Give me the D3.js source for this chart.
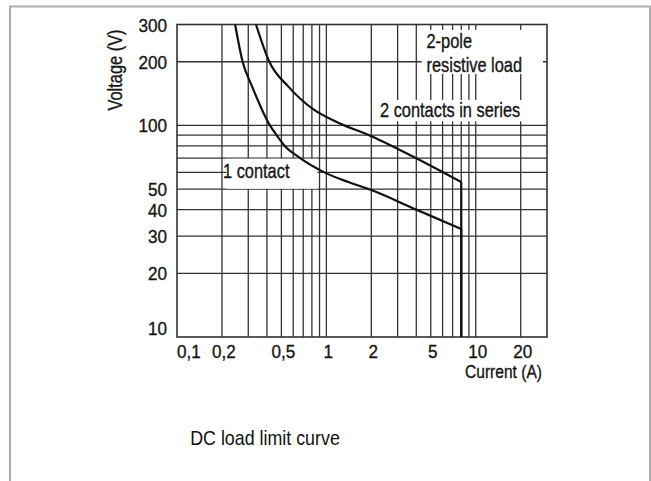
<!DOCTYPE html>
<html>
<head>
<meta charset="utf-8">
<title>DC load limit curve</title>
<script src="https://d3js.org/d3.v7.min.js"></script>
<style>
    body {
        margin: 0;
        background: #fff;
    }
    svg {
        display: block;
        font-family: "Liberation Sans", Arial, sans-serif;
    }
    .grid line {
        stroke: #333;
        stroke-width: 1.3px;
    }
    .curve {
        fill: none;
        stroke: #111;
        stroke-width: 2.2px;
    }
    .lbl, .tick {
        fill: #151515;
        stroke: #151515;
        stroke-width: 0.35px;
    }
    .lbl {
        font-size: 20px;
    }
    .tick {
        font-size: 19px;
    }
</style>
</head>
<body>
<svg id="chart" width="651" height="481"></svg>
<script>
    // axis values
    const xGridValues = [0.2, 0.3, 0.4, 0.5, 0.6, 0.7, 0.8, 0.9, 1, 2, 3, 4, 5, 6, 7, 8, 9, 10, 20];
    const yGridValues = [20, 30, 40, 50, 60, 70, 80, 90, 100, 200];
    const xTickValues = [0.1, 0.2, 0.5, 1, 2, 5, 10, 20];
    const xTickLabels = ["0,1", "0,2", "0,5", "1", "2", "5", "10", "20"];
    const yTickValues = [10, 20, 30, 40, 50, 100, 200, 300];

    // 1 contact
    const oneContactCurrent = [0.245, 0.275, 0.318, 0.419, 0.464, 0.527, 0.65, 0.97, 1.4, 2, 4, 8];
    const oneContactVoltage = [300, 200, 153, 100, 90, 80, 71, 60, 54, 49.5, 40, 32.4];

    // 2 contacts in series
    const seriesCurrent = [0.338, 0.415, 0.555, 0.82, 1.2, 2, 4, 8];
    const seriesVoltage = [300, 200, 153, 119, 103, 89, 70, 54];

    const svg = d3.select("#chart");
    const margin = {top: 24.5, right: 104, bottom: 144, left: 177};
    const W = 651, H = 481;
    const narrow = 0.82; // the original type is a condensed face
    const digits = 0.9;

    const x = d3.scaleLog().domain([0.1, 30]).range([margin.left, W - margin.right]);
    const y = d3.scaleLog().domain([10, 300]).range([H - margin.bottom, margin.top]);

    const at = (px, py, s = narrow) => `translate(${px},${py}) scale(${s},1)`;

    // outer frame
    svg.append("rect")
        .attr("x", 10).attr("y", 6.5)
        .attr("width", 640).attr("height", 500)
        .attr("fill", "none")
        .attr("stroke", "#ababb2")
        .attr("stroke-width", 2);

    // grid
    const grid = svg.append("g").attr("class", "grid");
    grid.selectAll(".v").data(xGridValues).enter().append("line")
        .attr("x1", d => x(d)).attr("x2", d => x(d))
        .attr("y1", y.range()[1]).attr("y2", y.range()[0]);
    grid.selectAll(".h").data(yGridValues).enter().append("line")
        .attr("x1", x.range()[0]).attr("x2", x.range()[1])
        .attr("y1", d => y(d)).attr("y2", d => y(d));

    // white boxes that blank the grid behind the notes
    const box = (i0, i1, v0, v1) => svg.append("rect")
        .attr("x", x(i0)).attr("y", y(v0))
        .attr("width", x(i1) - x(i0)).attr("height", y(v1) - y(v0))
        .attr("fill", "#fff");
    box(4.35, 28.2, 283, 175);    // 2-pole resistive load
    box(2.3, 28.2, 132, 104.5);   // 2 contacts in series
    box(0.214, 0.87, 69.6, 50.2); // 1 contact

    // plot border
    svg.append("rect")
        .attr("x", x.range()[0]).attr("y", y.range()[1])
        .attr("width", x.range()[1] - x.range()[0])
        .attr("height", y.range()[0] - y.range()[1])
        .attr("fill", "none")
        .attr("stroke", "#333")
        .attr("stroke-width", 1.6);

    // curves
    const line = d3.line()
        .x(d => x(d[0]))
        .y(d => y(d[1]))
        .curve(d3.curveMonotoneX);

    const drawCurve = (cur, volt) => {
        const pts = cur.map((c, i) => [c, volt[i]]);
        svg.append("path").attr("class", "curve").attr("d", line(pts));
        const last = pts[pts.length - 1];
        svg.append("path").attr("class", "curve")
            .attr("d", d3.line().x(d => x(d[0])).y(d => y(d[1]))([last, [last[0], y.domain()[0]]]));
    };
    drawCurve(oneContactCurrent, oneContactVoltage);
    drawCurve(seriesCurrent, seriesVoltage);

    // x tick labels
    svg.append("g").selectAll("text").data(xTickValues).enter().append("text")
        .attr("class", "tick")
        .attr("transform", (d, i) => at(i === 0 ? x(d) : x(d) + 2, H - margin.bottom + 21, digits))
        .attr("text-anchor", (d, i) => i === 0 ? "start" : "middle")
        .text((d, i) => xTickLabels[i]);

    // y tick labels
    svg.append("g").selectAll("text").data(yTickValues).enter().append("text")
        .attr("class", "tick")
        .attr("transform", d => at(margin.left - 10, d === y.domain()[0] ? y(d) - 2 : y(d) + 7, digits))
        .attr("text-anchor", "end")
        .text(d => d);

    // axis titles
    svg.append("text")
        .attr("class", "tick")
        .attr("transform", at(W - margin.right - 5, H - margin.bottom + 41))
        .attr("text-anchor", "end")
        .text("Current (A)");

    svg.append("text")
        .attr("class", "lbl")
        .attr("transform", `translate(122,70) rotate(-90) scale(${narrow},1)`)
        .attr("text-anchor", "middle")
        .text("Voltage (V)");

    // notes
    svg.append("text").attr("class", "lbl").attr("transform", at(426.5, 48)).text("2-pole");
    svg.append("text").attr("class", "lbl").attr("transform", at(426.5, 71.5)).text("resistive load");
    svg.append("text").attr("class", "lbl").attr("transform", at(380, 116.5)).text("2 contacts in series");
    svg.append("text").attr("class", "lbl").attr("transform", at(223, 178)).text("1 contact");

    // caption
    svg.append("text")
        .attr("transform", at(265, 445, 0.85))
        .attr("text-anchor", "middle")
        .attr("font-size", 21)
        .attr("fill", "#111")
        .text("DC load limit curve");
</script>
</body>
</html>
